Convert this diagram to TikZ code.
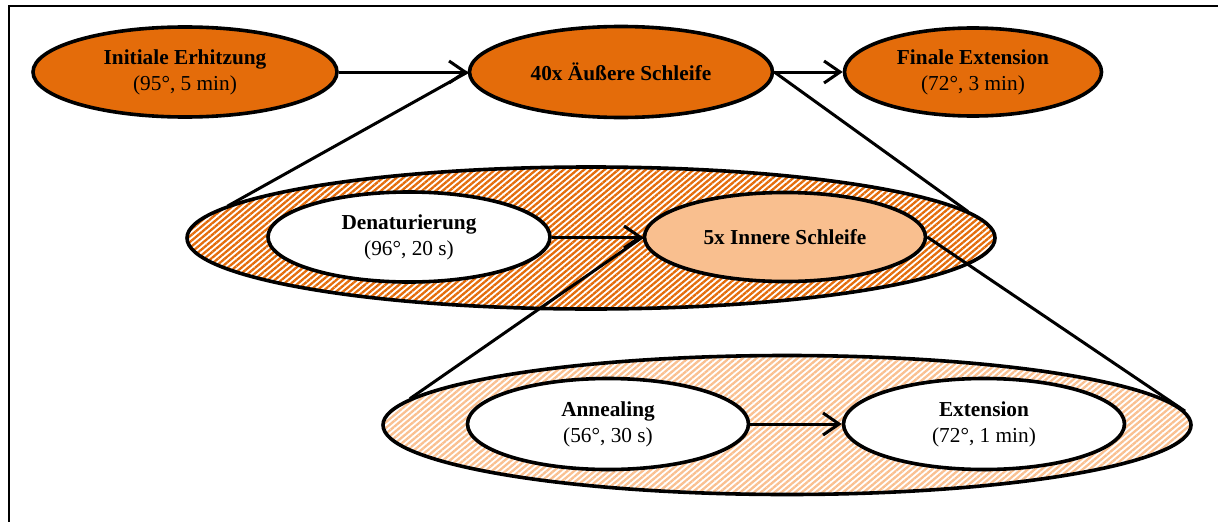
\documentclass[tikz,border=0pt]{standalone}
\usepackage{fontspec}
\setmainfont{Liberation Serif}
\usetikzlibrary{shapes.geometric,arrows.meta,patterns.meta}
\definecolor{darkorange}{HTML}{E46C0A}
\definecolor{lightorange}{HTML}{F9BF8F}
\definecolor{stripeorange}{HTML}{FAC090}
\tikzset{
  stage/.style={ellipse,draw=black,line width=3.6pt,inner sep=0pt,align=center,
    font=\fontsize{21.3}{26}\selectfont},
  outerstage/.style={stage,fill=darkorange},
  whitestage/.style={stage,fill=white},
  ringA/.style={ellipse,draw=black,line width=3.6pt,inner sep=0pt,
    preaction={fill=white},
    pattern={Lines[angle=40,distance=4.4pt,line width=2.3pt]},pattern color=darkorange},
  ringB/.style={ellipse,draw=black,line width=3.6pt,inner sep=0pt,
    preaction={fill=white},
    pattern={Lines[angle=40,distance=4.4pt,line width=2.3pt]},pattern color=stripeorange},
  flow/.style={line width=3pt,-{Straight Barb[length=16pt,width=22pt,line width=3pt]}},
  zoomline/.style={line width=3pt},
  frameline/.style={line width=2.6pt}
}
\begin{document}
\begin{tikzpicture}[x=1pt,y=-1pt]
\useasboundingbox (0,0) rectangle (1218,522);
% frame
\coordinate (fTR) at (1218,6);
\coordinate (fTL) at (9,6);
\coordinate (fBL) at (9,522);
\draw[frameline] (fTR) -- (fTL) -- (fBL);
% rings
\node[ringA,minimum width=808pt,minimum height=142pt] (ring1) at (591,238) {};
\node[ringB,minimum width=808pt,minimum height=139pt] (ring2) at (787,425) {};
% top row
\node[outerstage,minimum width=304pt,minimum height=90pt] (init) at (185,72)
  {\textbf{Initiale Erhitzung}\\(95°, 5 min)};
\node[outerstage,minimum width=303pt,minimum height=91pt] (outer) at (621,72)
  {\textbf{40x Äußere Schleife}};
\node[outerstage,minimum width=257pt,minimum height=88pt] (final) at (973,72)
  {\textbf{Finale Extension}\\(72°, 3 min)};
% middle row
\node[whitestage,minimum width=282pt,minimum height=90pt] (denat) at (409,237)
  {\textbf{Denaturierung}\\(96°, 20 s)};
\node[stage,fill=lightorange,minimum width=281pt,minimum height=89pt] (inner) at (785,237)
  {\textbf{5x Innere Schleife}};
% bottom row
\node[whitestage,minimum width=281pt,minimum height=91pt] (anneal) at (608,424)
  {\textbf{Annealing}\\(56°, 30 s)};
\node[whitestage,minimum width=281pt,minimum height=91pt] (ext) at (984,424)
  {\textbf{Extension}\\(72°, 1 min)};
% flow arrows
\draw[flow] (init.east) -- (outer.west);
\draw[flow] (outer.east) -- (final.west);
\draw[flow] (denat.east) -- (inner.west);
\draw[flow] (anneal.east) -- (ext.west);
% zoom lines
\draw[zoomline] (outer.west) -- (ring1.175);
\draw[zoomline] (outer.east) -- (ring1.4);
\draw[zoomline] (inner.west) -- (ring2.176);
\draw[zoomline] (inner.east) -- (ring2.2.5);
\end{tikzpicture}
\end{document}
